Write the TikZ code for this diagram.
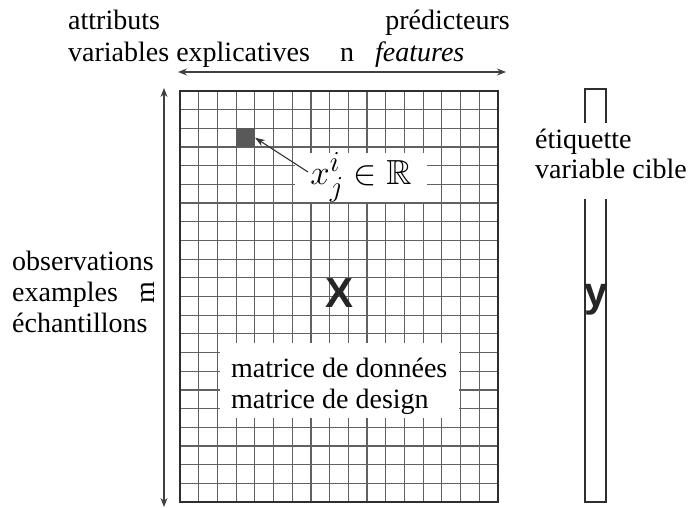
\documentclass[tikz,border=0pt]{standalone}
\usepackage{fontspec}
\setmainfont{Liberation Serif}
\newfontfamily\arialfont{Liberation Sans}
\usepackage{amssymb}
\usetikzlibrary{arrows.meta}
\begin{document}
\begin{tikzpicture}[x=1pt,y=-1pt,
  txt/.style={font=\fontsize{28}{31}\selectfont, inner sep=0pt, anchor=base west},
  gridline/.style={draw=black!62, line width=1.2pt},
  border/.style={draw=black!82, line width=2.3pt},
  dim/.style={draw=black!75, line width=1.1pt, {Stealth[length=9pt,width=7pt]}-{Stealth[length=9pt,width=7pt]}},
  pointer/.style={draw=black!80, line width=1.1pt, -{Stealth[length=10pt,width=7pt]}},
  bigletter/.style={font=\arialfont\bfseries\fontsize{42}{42}\selectfont, inner sep=0pt, text=black!85},
  whitebox/.style={fill=white, inner sep=0pt}]
\useasboundingbox (0,0) rectangle (693,508);
% grid
\foreach \gx in {198.71, 217.41, 236.12, 254.82, 273.53, 292.24, 310.94, 329.65, 348.35, 367.06, 385.76, 404.47, 423.18, 441.88, 460.59, 479.29}
  \draw[gridline] (\gx,91) -- (\gx,502);
\foreach \gy in {109.68, 128.36, 147.05, 165.73, 184.41, 203.09, 221.77, 240.45, 259.14, 277.82, 296.50, 315.18, 333.86, 352.55, 371.23, 389.91, 408.59, 427.27, 445.95, 464.64, 483.32}
  \draw[gridline] (180,\gy) -- (498,\gy);
\draw[border] (180,91) rectangle (498,502);
% highlighted cell
\node[fill=black!65, minimum width=18.7pt, minimum height=18.7pt, inner sep=0pt] (cell)
  at (245.47,137.7) {};
% label for element
\node[whitebox, minimum width=132pt, minimum height=45pt] (xl) at (361,177.5)
  {\scalebox{1.4}{\fontsize{24.88}{26}\selectfont$x_j^i \in \mathbb{R}$}};
\coordinate (xs) at (308,172);
\draw[pointer] (xs) -- (cell.east);
% matrix label
\node[whitebox, minimum width=239pt, minimum height=75pt] (mbox) at (339.5,380.5) {};
\node[txt] (md1) at (231,377) {matrice de données};
\node[txt] (md2) at (231,408) {matrice de design};
% X
\node[bigletter] (X) at (340,293) {X};
% y vector
\draw[border, line width=2pt] (585,89) rectangle (606,502);
\node[whitebox, minimum width=160pt, minimum height=76pt] (ybox) at (612,161) {};
\node[txt] (et1) at (535,148) {étiquette};
\node[txt] (et2) at (535,178) {variable cible};
\node[bigletter] (Y) at (596,300) {y};
% top labels
\node[txt] (t1) at (68,30) {attributs};
\node[txt, anchor=base east] (t2) at (510,30) {prédicteurs};
\node[txt] (t3) at (68,62) {variables explicatives};
\node[txt] (t4) at (340,62) {n};
\node[txt] (t5) at (375,62) {\itshape features};
\coordinate (ha) at (178,72);
\coordinate (hb) at (506,72);
\draw[dim] (ha) -- (hb);
% left labels
\node[txt] (l1) at (12,270) {observations};
\node[txt] (l2) at (12,301) {examples};
\node[txt] (l3) at (12,332) {échantillons};
\node[txt, anchor=center, rotate=90] (m) at (148,293) {m};
\coordinate (va) at (164,88);
\coordinate (vb) at (164,507);
\draw[dim] (va) -- (vb);
\end{tikzpicture}
\end{document}
